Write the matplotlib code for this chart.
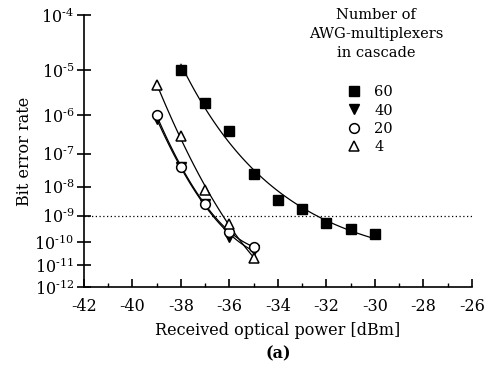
import numpy as np
import matplotlib
matplotlib.use('Agg')
import matplotlib.pyplot as plt
from matplotlib.ticker import FixedLocator, FixedFormatter, MultipleLocator

plt.rcParams['font.family'] = 'DejaVu Serif'
plt.rcParams['mathtext.fontset'] = 'dejavuserif'
plt.rcParams['axes.unicode_minus'] = False

# data
x60 = [-38, -37, -36, -35, -34, -33, -32, -31, -30]
ber60 = [1e-5, 2e-6, 4e-7, 2.5e-8, 3.5e-9, 1.7e-9, 5.6e-10, 3.1e-10, 2e-10]
x40 = [-39, -38, -37, -36, -35]
ber40 = [8e-7, 4e-8, 2.6e-9, 1.6e-10, 4.7e-11]
x20 = [-39, -38, -37, -36, -35]
ber20 = [1e-6, 4.2e-8, 2.6e-9, 2.5e-10, 6.3e-11]
x4 = [-39, -38, -37, -36, -35]
ber4 = [5e-6, 3e-7, 8e-9, 5e-10, 2.2e-11]

yticks = [1e-4, 1e-5, 1e-6, 1e-7, 1e-8, 1e-9, 1e-10, 1e-11, 1e-12]
ylabels = ['10$^{\\text{-}%d}$' % n for n in range(4, 13)]


def fwd(b):
    return -np.log10(-np.log10(b))


def inv(t):
    return 10 ** (-(10 ** (-t)))


fig = plt.figure(figsize=(4.85, 3.66), dpi=100)
ax = fig.add_axes([0.173, 0.216, 0.80, 0.743])
ax.set_yscale('function', functions=(fwd, inv))


def fit_curve(xs, bs, deg=2):
    # polynomial fit in the transformed (BER-scale) space
    p = np.polyfit(xs, fwd(np.array(bs)), deg)
    xx = np.linspace(min(xs), max(xs), 100)
    return xx, inv(np.polyval(p, xx))


def fit_exp(xs, bs):
    # saturating exponential t = a + b*exp(-k x), k by grid search
    xs = np.array(xs, float)
    t = fwd(np.array(bs))
    best = None
    for k in np.linspace(0.05, 1.5, 300):
        A = np.column_stack([np.ones_like(xs), np.exp(-k * (xs - xs[0]))])
        c, *_ = np.linalg.lstsq(A, t, rcond=None)
        err = np.sum((A @ c - t) ** 2)
        if best is None or err < best[0]:
            best = (err, k, c)
    _, k, c = best
    xx = np.linspace(xs.min(), xs.max(), 100)
    return xx, inv(c[0] + c[1] * np.exp(-k * (xx - xs[0])))


xx, yy = fit_exp(x60, ber60)
ax.plot(xx, yy, color='black', lw=0.9)
for xs, bs in [(x40, ber40), (x20, ber20), (x4, ber4)]:
    xx, yy = fit_curve(xs, bs, 2)
    ax.plot(xx, yy, color='black', lw=0.9)

h60, = ax.plot(x60, ber60, 's', color='black', ms=7, ls='none')
h40, = ax.plot(x40, ber40, 'v', color='black', ms=7, ls='none')
h20, = ax.plot(x20, ber20, 'o', mfc='white', mec='black', mew=1.1, ms=7, ls='none')
h4, = ax.plot(x4, ber4, '^', mfc='white', mec='black', mew=1.1, ms=7, ls='none')

ax.axhline(1e-9, color='black', ls=(0, (1, 2)), lw=0.9)

ax.set_xlim(-42, -26)
ax.set_ylim(1e-12, 1e-4)
ax.yaxis.set_major_locator(FixedLocator(yticks))
ax.yaxis.set_major_formatter(FixedFormatter(ylabels))
ax.yaxis.set_minor_locator(FixedLocator([]))
ax.xaxis.set_major_locator(MultipleLocator(2))
ax.xaxis.set_minor_locator(MultipleLocator(1))

for s in ['top', 'right']:
    ax.spines[s].set_visible(False)
ax.spines['left'].set_linewidth(1.2)
ax.spines['bottom'].set_linewidth(1.2)
ax.tick_params(axis='y', which='major', direction='inout', length=10, width=1.2, labelsize=11.5, pad=2)
ax.tick_params(axis='x', which='major', direction='in', length=6, width=1.2, labelsize=11.5, pad=8)
ax.tick_params(axis='x', which='minor', direction='in', length=3, width=1.0)

ax.set_ylabel('Bit error rate', fontsize=11.5, labelpad=1)
ax.set_xlabel('Received optical power [dBm]', fontsize=11.5, labelpad=5)
fig.text(0.573, 0.02, '(a)', fontsize=11.5, fontweight='bold', ha='center')

fig.text(376 / 485, 1 - 8 / 366, 'Number of\nAWG-multiplexers\nin cascade', ha='center', va='top',
         fontsize=10.5, linespacing=1.45, multialignment='center')
ax.legend([h60, h40, h20, h4], ['60', '40', '20', '4'], loc='upper left',
          bbox_to_anchor=(335 / 485, 1 - 75 / 366), bbox_transform=fig.transFigure,
          frameon=False, fontsize=10.5, handletextpad=0.8, labelspacing=0.3,
          handlelength=1.2, borderpad=0.2)

fig.savefig('out.png', dpi=100)
